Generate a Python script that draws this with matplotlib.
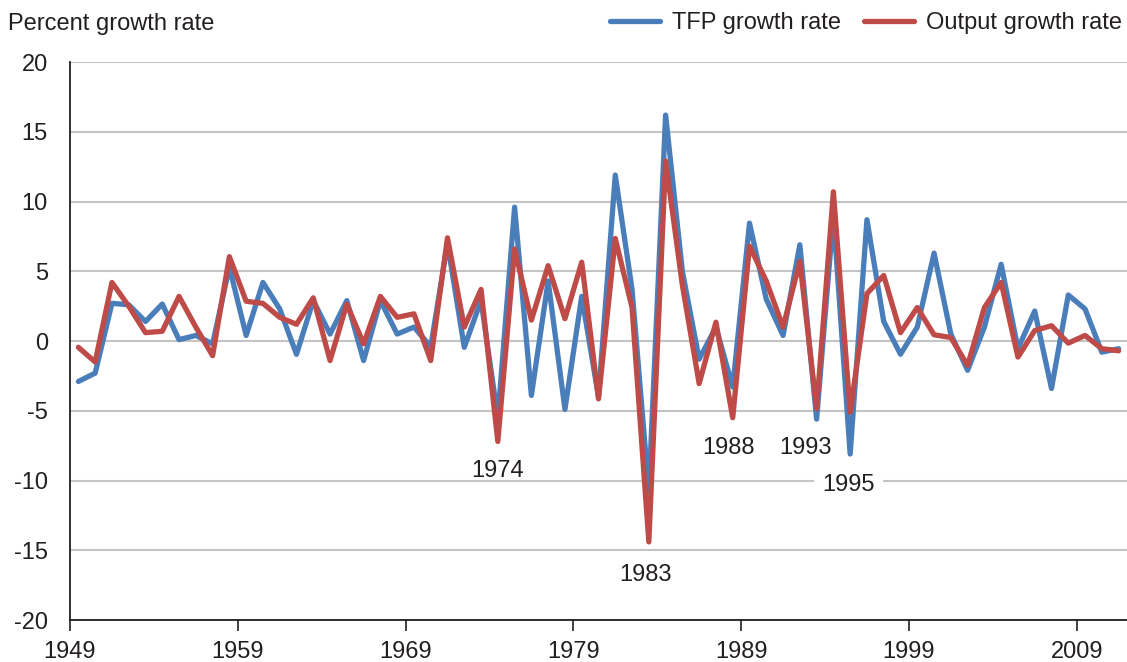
import matplotlib.pyplot as plt
import numpy as np

plt.rcParams["font.family"] = ["Liberation Sans", "DejaVu Sans"]
plt.rcParams["axes.unicode_minus"] = False

years = list(range(1949, 2012))

tfp_growth = [
    -2.9, -2.3, 2.7, 2.6, 1.4, 2.65, 0.1, 0.4, -0.2, 5.3,
    0.4, 4.2, 2.3, -0.95, 2.9, 0.5, 2.9, -1.4, 2.9, 0.5,
    1.0, -0.4, 7.0, -0.45, 2.9, -5.5, 9.6, -3.9, 4.3, -4.9,
    3.2, -4.0, 11.9, 3.7, -10.8, 16.2, 5.0, -1.3, 1.0, -3.3,
    8.45, 3.0, 0.4, 6.9, -5.6, 9.0, -8.1, 8.7, 1.4, -0.95,
    1.0, 6.3, 0.5, -2.1, 1.0, 5.5, -0.55, 2.15, -3.4, 3.3,
    2.3, -0.8, -0.55,
]

output_growth = [
    -0.45, -1.5, 4.2, 2.5, 0.6, 0.7, 3.2, 1.0, -1.05, 6.05,
    2.85, 2.7, 1.7, 1.2, 3.1, -1.4, 2.65, -0.2, 3.2, 1.7,
    1.95, -1.4, 7.4, 1.0, 3.7, -7.2, 6.6, 1.5, 5.4, 1.6,
    5.65, -4.15, 7.35, 2.4, -14.4, 12.9, 4.0, -3.05, 1.35, -5.5,
    6.8, 4.3, 1.0, 5.7, -4.85, 10.7, -5.1, 3.4, 4.7, 0.6,
    2.4, 0.45, 0.25, -1.75, 2.4, 4.2, -1.15, 0.75, 1.1, -0.15,
    0.4, -0.55, -0.7,
]

tick_years = [1949, 1959, 1969, 1979, 1989, 1999, 2009]

labels = ["1974", "1983", "1988", "1993", "1995"]
label_x = [1974.46, 1983.3, 1988.25, 1992.85, 1995.4]
label_y = [-9.3, -16.8, -7.7, -7.7, -10.35]

blue = "#4a7ebb"
red = "#be4b48"

fig = plt.figure(figsize=(11.27, 6.62), dpi=100)
ax = fig.add_axes([0.0621, 0.0634, 0.9379, 0.8429])

x = np.array(years) + 0.5

ax.plot(x, tfp_growth, color=blue, linewidth=3.8, label="TFP growth rate",
        solid_joinstyle="round", solid_capstyle="round", zorder=3)
ax.plot(x, output_growth, color=red, linewidth=3.8, label="Output growth rate",
        solid_joinstyle="round", solid_capstyle="round", zorder=4)

for text, tx, ty in zip(labels, label_x, label_y):
    bbox = None
    if text == "1995":
        bbox = dict(facecolor="white", edgecolor="none", pad=6)
    ax.text(tx, ty, text, ha="center", va="center", fontsize=17,
            color="#231f20", bbox=bbox, zorder=5)

ax.set_xlim(1949, 2012)
ax.set_ylim(-20, 20)
ax.set_yticks(range(-20, 21, 5))
ax.set_xticks(tick_years)
ax.set_xticklabels([str(y) for y in tick_years])

ax.grid(axis="y", color="#c4c4c4", linewidth=1.5, zorder=0)
ax.set_axisbelow(True)

ax.spines["top"].set_visible(False)
ax.spines["right"].set_visible(False)
ax.spines["left"].set_linewidth(1.3)
ax.spines["bottom"].set_linewidth(1.3)
ax.spines["left"].set_color("#231f20")
ax.spines["bottom"].set_color("#231f20")

ax.tick_params(axis="y", length=0, pad=16, labelsize=17, labelcolor="#231f20")
ax.tick_params(axis="x", length=8, width=1.2, direction="out", pad=7,
               labelsize=17, labelcolor="#231f20", color="#231f20")

fig.text(0.007, 0.963, "Percent growth rate", ha="left", va="center",
         fontsize=17, color="#231f20")

ax.legend(loc="upper right", bbox_to_anchor=(1.015, 1.128), ncol=2, frameon=False,
          fontsize=17, handlelength=2.1, columnspacing=1.0, handletextpad=0.5,
          labelcolor="#231f20")

plt.savefig("out.png", dpi=100)
plt.close()
